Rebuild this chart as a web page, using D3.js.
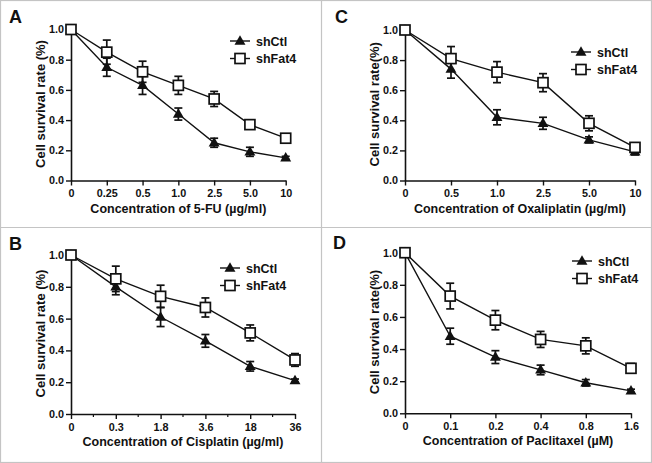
<!DOCTYPE html>
<html><head><meta charset="utf-8">
<script src="https://cdn.jsdelivr.net/npm/d3@7"></script>
<style>
html,body{margin:0;padding:0;background:#fff;}
svg{display:block;}
text{font-family:"Liberation Sans",Arial,sans-serif;font-weight:bold;fill:#111;}
</style></head>
<body>
<svg id="fig" width="652" height="463"></svg>
<script>
// ---- Data ----
const seriesNames = ["shCtl", "shFat4"];
const yTicks = [0, 0.2, 0.4, 0.6, 0.8, 1.0];

const catsA = ["0", "0.25", "0.5", "1.0", "2.5", "5.0", "10"];
const ctlA = [1.0, 0.75, 0.63, 0.44, 0.25, 0.19, 0.15];
const ctlAErr = [0.01, 0.06, 0.06, 0.04, 0.03, 0.03, 0.01];
const fatA = [1.0, 0.85, 0.72, 0.63, 0.54, 0.37, 0.28];
const fatAErr = [0.01, 0.08, 0.07, 0.06, 0.05, 0.03, 0.02];

const catsC = ["0", "0.5", "1.0", "2.5", "5.0", "10"];
const ctlC = [1.0, 0.74, 0.42, 0.38, 0.27, 0.19];
const ctlCErr = [0.01, 0.06, 0.05, 0.04, 0.02, 0.02];
const fatC = [1.0, 0.81, 0.72, 0.65, 0.38, 0.22];
const fatCErr = [0.01, 0.08, 0.07, 0.06, 0.05, 0.02];

const catsB = ["0", "0.3", "1.8", "3.6", "18", "36"];
const ctlB = [1.0, 0.80, 0.61, 0.46, 0.30, 0.21];
const ctlBErr = [0.01, 0.05, 0.06, 0.04, 0.03, 0.01];
const fatB = [1.0, 0.85, 0.74, 0.67, 0.51, 0.34];
const fatBErr = [0.01, 0.08, 0.07, 0.06, 0.05, 0.04];

const catsD = ["0", "0.1", "0.2", "0.4", "0.8", "1.6"];
const ctlD = [1.0, 0.48, 0.35, 0.27, 0.19, 0.14];
const ctlDErr = [0.01, 0.05, 0.04, 0.03, 0.02, 0.01];
const fatD = [1.0, 0.73, 0.58, 0.46, 0.42, 0.28];
const fatDErr = [0.01, 0.08, 0.06, 0.05, 0.05, 0.03];

// ---- Layout ----
const panels = [
  {letter:"A", lx:9, ly:23, cats:catsA, ctl:ctlA, ctlE:ctlAErr, fat:fatA, fatE:fatAErr,
   x0:71, x1:285.7, y0:180.5, y1:29.5, ytitle:"Cell survival rate (%)",
   xtitle:"Concentration of 5-FU (\u00B5g/ml)", legX:230, legY:41, minor:false},
  {letter:"C", lx:335, ly:23, cats:catsC, ctl:ctlC, ctlE:ctlCErr, fat:fatC, fatE:fatCErr,
   x0:405, x1:635, y0:180.5, y1:30, ytitle:"Cell survival rate(%)",
   xtitle:"Concentration of Oxaliplatin (\u00B5g/ml)", legX:571, legY:52, minor:false},
  {letter:"B", lx:9, ly:250, cats:catsB, ctl:ctlB, ctlE:ctlBErr, fat:fatB, fatE:fatBErr,
   x0:71, x1:295, y0:414, y1:255, ytitle:"Cell survival rate (%)",
   xtitle:"Concentration of Cisplatin (\u00B5g/ml)", legX:220, legY:268, minor:true},
  {letter:"D", lx:333, ly:249, cats:catsD, ctl:ctlD, ctlE:ctlDErr, fat:fatD, fatE:fatDErr,
   x0:405, x1:631, y0:413.3, y1:252.7, ytitle:"Cell survival rate(%)",
   xtitle:"Concentration of Paclitaxel (\u00B5M)", legX:572, legY:261, minor:false}
];

const svg = d3.select("#fig");

// frame lines
const frame = svg.append("g").attr("fill","none").attr("stroke","#c4c4c4").attr("stroke-width",1.2);
frame.append("rect").attr("x",0.5).attr("y",0.5).attr("width",651).attr("height",462);
frame.append("line").attr("x1",0).attr("x2",652).attr("y1",227.5).attr("y2",227.5);
frame.append("line").attr("x1",321.5).attr("x2",321.5).attr("y1",0).attr("y2",463);

const tri = d3.symbol().type(d3.symbolTriangle).size(52);

function drawPanel(p){
  const g = svg.append("g");
  const x = d3.scalePoint().domain(p.cats).range([p.x0, p.x1]).padding(0);
  const y = d3.scaleLinear().domain([0,1]).range([p.y0, p.y1]);

  g.append("text").attr("x",p.lx).attr("y",p.ly).attr("font-size",18).text(p.letter);

  // axes
  const xa = g.append("g").attr("transform",`translate(0,${p.y0})`)
    .call(d3.axisBottom(x).tickSize(5).tickSizeOuter(0).tickPadding(4));
  const ya = g.append("g").attr("transform",`translate(${p.x0},0)`)
    .call(d3.axisLeft(y).tickValues(yTicks).tickFormat(d3.format(".1f")).tickSize(5).tickSizeOuter(0).tickPadding(2));
  [xa, ya].forEach(a=>{
    a.select(".domain").attr("stroke","#111").attr("stroke-width",1.6);
    a.selectAll(".tick line").attr("stroke","#111").attr("stroke-width",1.4);
    a.selectAll(".tick text").attr("font-size",10.8).attr("font-family",null).attr("fill","#111");
  });
  if(p.minor){
    const cs = p.cats;
    const mids = d3.pairs(cs).map(([a,b])=>(x(a)+x(b))/2);
    g.append("g").selectAll("line").data(mids).join("line")
      .attr("x1",d=>d).attr("x2",d=>d).attr("y1",p.y0).attr("y2",p.y0+3)
      .attr("stroke","#111").attr("stroke-width",1.2);
  }

  // titles
  g.append("text").attr("font-size",13).attr("text-anchor","middle")
    .attr("transform",`translate(${p.x0-26},${(p.y0+p.y1)/2 - 1}) rotate(-90)`).text(p.ytitle);
  g.append("text").attr("font-size",12.5).attr("text-anchor","middle")
    .attr("x",(p.x0+p.x1)/2).attr("y",p.y0+32).text(p.xtitle);

  const line = d3.line().x(d=>x(d.c)).y(d=>y(d.v));
  const series = [
    {name:seriesNames[0], vals:p.ctl, errs:p.ctlE, type:"tri"},
    {name:seriesNames[1], vals:p.fat, errs:p.fatE, type:"sq"}
  ].map(s=>({...s, pts:p.cats.map((c,i)=>({c, v:s.vals[i], e:s.errs[i]}))}));

  series.forEach(s=>{
    g.append("path").datum(s.pts).attr("d",line).attr("fill","none")
      .attr("stroke","#111").attr("stroke-width",1.4);
  });
  series.forEach(s=>{
    const eb = g.append("g").attr("stroke","#111").attr("stroke-width",1.7);
    s.pts.forEach(d=>{
      const cx = x(d.c), ya1 = y(d.v-d.e), yb = y(d.v+d.e);
      eb.append("line").attr("x1",cx).attr("x2",cx).attr("y1",ya1).attr("y2",yb);
      eb.append("line").attr("x1",cx-4).attr("x2",cx+4).attr("y1",ya1).attr("y2",ya1);
      eb.append("line").attr("x1",cx-4).attr("x2",cx+4).attr("y1",yb).attr("y2",yb);
    });
    drawMarkers(g, s.type, s.pts.map(d=>[x(d.c), y(d.v)]));
  });

  // legend
  series.forEach((s,i)=>{
    const ly = p.legY + i*17.5;
    g.append("line").attr("x1",p.legX).attr("x2",p.legX+20).attr("y1",ly).attr("y2",ly)
      .attr("stroke","#111").attr("stroke-width",1.4);
    drawMarkers(g, s.type, [[p.legX+10, ly]]);
    g.append("text").attr("x",p.legX+26).attr("y",ly+4.5).attr("font-size",12.5).text(s.name);
  });
}

function drawMarkers(g, type, pts){
  if(type==="tri"){
    g.append("g").selectAll("path").data(pts).join("path")
      .attr("d",tri).attr("transform",d=>`translate(${d[0]},${d[1]+0.5})`).attr("fill","#111");
  } else {
    g.append("g").selectAll("rect").data(pts).join("rect")
      .attr("x",d=>d[0]-5).attr("y",d=>d[1]-5).attr("width",10).attr("height",10)
      .attr("fill","#fff").attr("stroke","#111").attr("stroke-width",1.7);
  }
}

panels.forEach(drawPanel);
</script>
</body></html>
